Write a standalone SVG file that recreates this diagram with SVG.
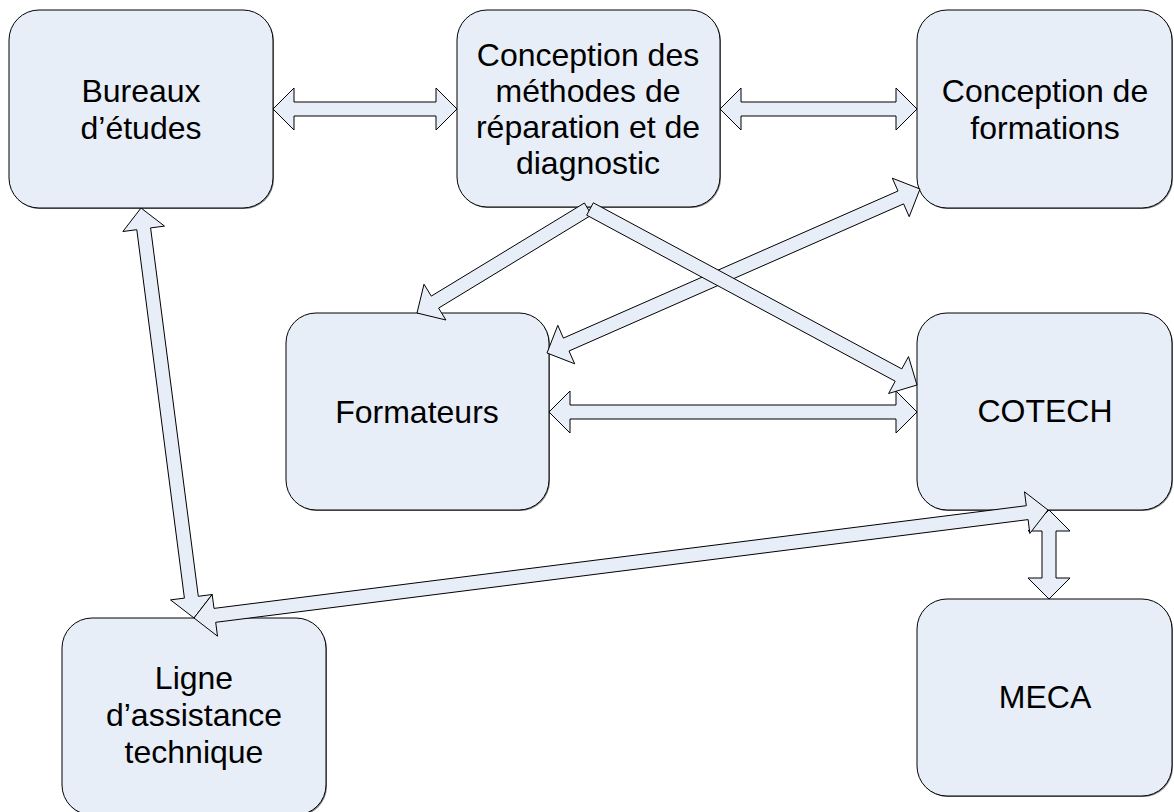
<svg xmlns="http://www.w3.org/2000/svg" width="1174" height="812" viewBox="0 0 1174 812">
<style>
.box{fill:#E8EEF7;stroke:#000;stroke-width:1}
.sh{fill:#808080}
.lbl{font-family:"Liberation Sans",Arial,sans-serif;font-size:32px;fill:#000;text-anchor:middle}
.arr{fill:#E8EEF7;stroke:#000;stroke-width:1;stroke-linejoin:miter}
</style>
<rect width="1174" height="812" fill="#fff"/>
<g id="node-bureaux">
<rect class="sh" x="10" y="11" width="264" height="198" rx="30"/>
<rect class="box" x="9" y="10" width="264" height="198" rx="30"/>
<text class="lbl" x="141" y="102">Bureaux</text>
<text class="lbl" x="141" y="139">d’études</text>
</g>
<g id="node-methodes">
<rect class="sh" x="458" y="11" width="263" height="197" rx="30"/>
<rect class="box" x="457" y="10" width="263" height="197" rx="30"/>
<text class="lbl" x="588" y="66">Conception des</text>
<text class="lbl" x="588" y="102">méthodes de</text>
<text class="lbl" x="588" y="138">réparation et de</text>
<text class="lbl" x="588" y="174">diagnostic</text>
</g>
<g id="node-formations">
<rect class="sh" x="918" y="11" width="255" height="198" rx="30"/>
<rect class="box" x="917" y="10" width="255" height="198" rx="30"/>
<text class="lbl" x="1045" y="102">Conception de</text>
<text class="lbl" x="1045" y="139">formations</text>
</g>
<g id="node-formateurs">
<rect class="sh" x="287" y="314" width="263" height="197" rx="30"/>
<rect class="box" x="286" y="313" width="263" height="197" rx="30"/>
<text class="lbl" x="417" y="423">Formateurs</text>
</g>
<g id="node-cotech">
<rect class="sh" x="918" y="314" width="255" height="197" rx="30"/>
<rect class="box" x="917" y="313" width="255" height="197" rx="30"/>
<text class="lbl" x="1045" y="422">COTECH</text>
</g>
<g id="node-ligne">
<rect class="sh" x="63" y="619" width="264" height="197" rx="30"/>
<rect class="box" x="62" y="618" width="264" height="197" rx="30"/>
<text class="lbl" x="194" y="689">Ligne</text>
<text class="lbl" x="194" y="726">d’assistance</text>
<text class="lbl" x="194" y="763">technique</text>
</g>
<g id="node-meca">
<rect class="sh" x="918" y="600" width="255" height="197" rx="30"/>
<rect class="box" x="917" y="599" width="255" height="197" rx="30"/>
<text class="lbl" x="1045" y="708">MECA</text>
</g>
<g id="connectors">
<polygon class="arr" points="273,109 294,88 294,102 436,102 436,88 457,109 436,130 436,116 294,116 294,130"/>
<polygon class="arr" points="720,109 741,88 741,102 896,102 896,88 917,109 896,130 896,116 741,116 741,130"/>
<polygon class="arr" points="549,412 570,391 570,405 896,405 896,391 917,412 896,433 896,419 570,419 570,433"/>
<polygon class="arr" points="547,353 574.7,363.8 569,351 903.6,203.9 909.2,216.7 920,189 892.3,178.2 898,191 563.4,338.1 557.8,325.3"/>
<polygon class="arr" points="584.4,203 431.3,296.1 424,284.2 417,313 445.9,320 438.6,308.1 591.6,215"/>
<polygon class="arr" points="593.3,202.8 901.8,368.9 908.5,356.6 917,385 888.6,393.5 895.2,381.2 586.7,215.2"/>
<polygon class="arr" points="141,208 122.9,231.5 136.8,229.7 184.4,598.1 170.5,599.9 194,618 212.1,594.5 198.3,596.3 150.6,227.9 164.5,226.1"/>
<polygon class="arr" points="1049,510 1070,531 1056,531 1056,578 1070,578 1049,599 1028,578 1042,578 1042,531 1028,531"/>
<polygon class="arr" points="194,618 217.5,636.2 215.7,622.3 1028.1,519.6 1029.8,533.5 1048,510 1024.5,491.8 1026.3,505.7 214,608.4 212.2,594.5"/>
</g>
</svg>
